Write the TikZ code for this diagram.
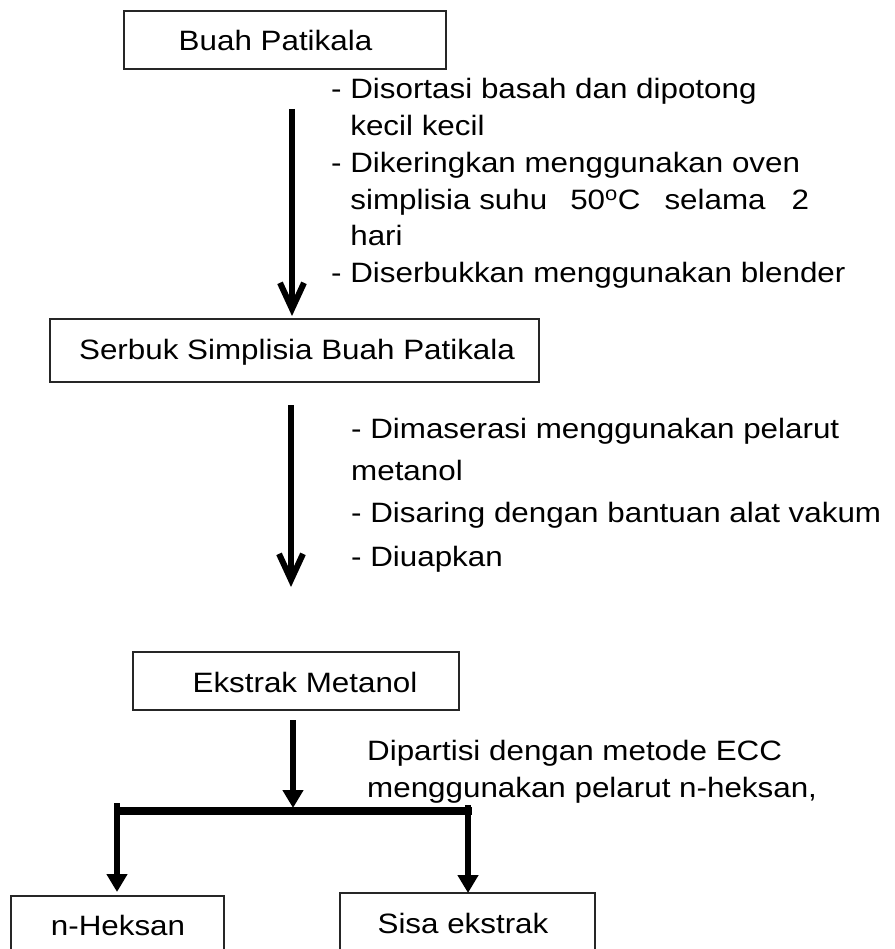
\documentclass[tikz,border=0pt]{standalone}
\usepackage{fontspec}
\setmainfont{Liberation Sans}[FakeStretch=1.12]
\usetikzlibrary{arrows.meta}
\begin{document}
\begin{tikzpicture}[x=1pt,y=-1pt,
  box/.style={draw=black!85, line width=1.2pt, inner sep=0pt},
  lbl/.style={inner sep=0pt, anchor=base, font=\fontsize{28}{34}\selectfont},
  txt/.style={inner sep=0pt, anchor=base west, font=\fontsize{28}{34}\selectfont},
  openarr/.style={line width=6pt, -{Straight Barb[length=26pt,width=24pt]}},
  fillarr/.style={line width=6pt, -{Triangle[length=18pt,width=20pt]}}]
\useasboundingbox (0,0) rectangle (894,949);
\fill[white] (0,0) rectangle (894,949);
% boxes
\node[box, minimum width=322pt, minimum height=58pt] (b1) at (285,40) {};
\node[box, minimum width=489pt, minimum height=63pt] (b2) at (294.5,350.5) {};
\node[box, minimum width=326pt, minimum height=58pt] (b3) at (296,681) {};
\node[box, minimum width=213pt, minimum height=80pt] (b4) at (117.5,936) {};
\node[box, minimum width=255pt, minimum height=80pt] (b5) at (467.5,933) {};
% box labels
\node[lbl] (t1) at (275.5,51) {Buah Patikala};
\node[lbl] (t2) at (297,359) {Serbuk Simplisia Buah Patikala};
\node[lbl] (t3) at (305,692) {Ekstrak Metanol};
\node[lbl] (t4) at (118,935) {n-Heksan};
\node[lbl] (t5) at (463,933) {Sisa ekstrak};
% step 1 notes
\node[txt] (s1) at (331,99) {- Disortasi basah dan dipotong};
\node[txt] (s2) at (331,136) {\phantom{- }kecil kecil};
\node[txt] (s3) at (331,173) {- Dikeringkan menggunakan oven};
\node[txt] (s4) at (331,210) {\phantom{- }simplisia suhu\hspace{23pt}50\textsuperscript{o}C\hspace{24pt}selama\hspace{26pt}2};
\node[txt] (s5) at (331,246) {\phantom{- }hari};
\node[txt] (s6) at (331,283) {- Diserbukkan menggunakan blender};
% step 2 notes
\node[txt] (m1) at (351,438) {- Dimaserasi menggunakan pelarut};
\node[txt] (m2) at (351,480) {metanol};
\node[txt] (m3) at (351,522) {- Disaring dengan bantuan alat vakum};
\node[txt] (m4) at (351,566) {- Diuapkan};
% step 3 notes
\node[txt] (p1) at (367,760) {Dipartisi dengan metode ECC};
\node[txt] (p2) at (367,797) {menggunakan pelarut n-heksan,};
% arrow coordinates
\coordinate (a1s) at (292,109);
\coordinate (a1e) at (292,316);
\coordinate (a2s) at (291,405);
\coordinate (a2e) at (291,587);
\coordinate (a3s) at (293,720);
\coordinate (a3e) at (293,808);
\coordinate (bl) at (120,811);
\coordinate (br) at (472,811);
\coordinate (lt) at (117,803);
\coordinate (lb) at (117,892);
\coordinate (rt) at (468,805);
\coordinate (rb) at (468,893);
% connectors
\draw[openarr] (a1s) -- (a1e);
\draw[openarr] (a2s) -- (a2e);
\draw[line width=7.5pt] (bl) -- (br);
\draw[fillarr] (a3s) -- (a3e);
\draw[fillarr] (lt) -- (lb);
\draw[fillarr] (rt) -- (rb);
\end{tikzpicture}
\end{document}
